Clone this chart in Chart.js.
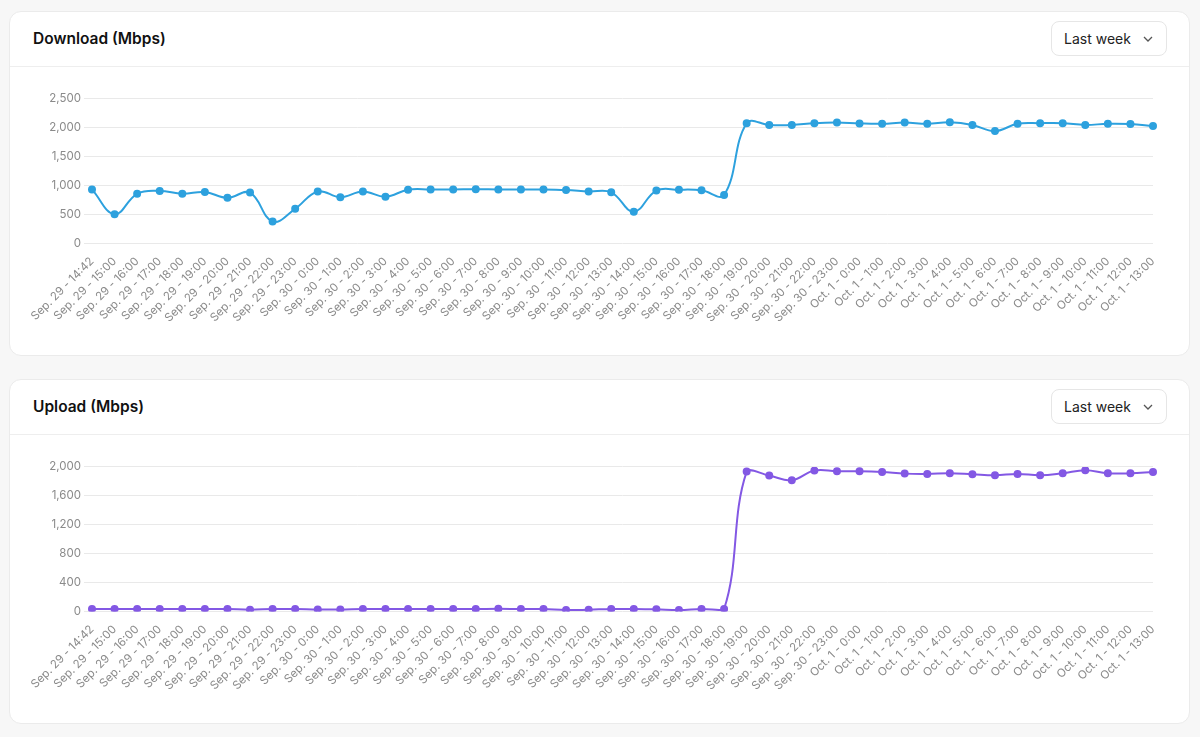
<!DOCTYPE html>
<html>
<head>
<meta charset="utf-8">
<script src="https://cdn.jsdelivr.net/npm/chart.js@4"></script>
<style>
  body { margin: 0; background: #f7f7f7; font-family: Inter, sans-serif; }
  .card { position: absolute; left: 9px; width: 1179px; height: 343px; background: #fff;
          border: 1px solid #ebebeb; border-radius: 12px; }
  .card-header { height: 54px; border-bottom: 1px solid #eeeeee; position: relative; }
  .card-header h2 { margin: 0; position: absolute; left: 23px; top: 17px; font-size: 15.5px;
          font-weight: 600; color: #111; }
  .select { position: absolute; right: 22px; top: 9px; width: 116px; height: 35px;
          border: 1px solid #e6e6e6; border-radius: 8px; font-size: 14px; color: #222;
          line-height: 33px; padding-left: 12px; box-sizing: border-box; }
  .select svg { position: absolute; right: 13px; top: 14px; }
  .chart-wrap { position: absolute; left: 20px; top: 77px; width: 1141px; height: 258px; }
</style>
</head>
<body>
<div class="card" style="top:11px">
  <div class="card-header">
    <h2>Download (Mbps)</h2>
    <div class="select">Last week<svg width="10" height="6" viewBox="0 0 10 6"><path d="M1 1 L5 5 L9 1" fill="none" stroke="#555" stroke-width="1.3"/></svg></div>
  </div>
  <div class="chart-wrap"><canvas id="download-graph"></canvas></div>
</div>
<div class="card" style="top:379px">
  <div class="card-header">
    <h2>Upload (Mbps)</h2>
    <div class="select">Last week<svg width="10" height="6" viewBox="0 0 10 6"><path d="M1 1 L5 5 L9 1" fill="none" stroke="#555" stroke-width="1.3"/></svg></div>
  </div>
  <div class="chart-wrap"><canvas id="upload-graph"></canvas></div>
</div>
<script>
const labels = [
  'Sep. 29 - 14:42', 'Sep. 29 - 15:00', 'Sep. 29 - 16:00', 'Sep. 29 - 17:00', 'Sep. 29 - 18:00',
  'Sep. 29 - 19:00', 'Sep. 29 - 20:00', 'Sep. 29 - 21:00', 'Sep. 29 - 22:00', 'Sep. 29 - 23:00',
  'Sep. 30 - 0:00', 'Sep. 30 - 1:00', 'Sep. 30 - 2:00', 'Sep. 30 - 3:00', 'Sep. 30 - 4:00',
  'Sep. 30 - 5:00', 'Sep. 30 - 6:00', 'Sep. 30 - 7:00', 'Sep. 30 - 8:00', 'Sep. 30 - 9:00',
  'Sep. 30 - 10:00', 'Sep. 30 - 11:00', 'Sep. 30 - 12:00', 'Sep. 30 - 13:00', 'Sep. 30 - 14:00',
  'Sep. 30 - 15:00', 'Sep. 30 - 16:00', 'Sep. 30 - 17:00', 'Sep. 30 - 18:00', 'Sep. 30 - 19:00',
  'Sep. 30 - 20:00', 'Sep. 30 - 21:00', 'Sep. 30 - 22:00', 'Sep. 30 - 23:00',
  'Oct. 1 - 0:00', 'Oct. 1 - 1:00', 'Oct. 1 - 2:00', 'Oct. 1 - 3:00', 'Oct. 1 - 4:00',
  'Oct. 1 - 5:00', 'Oct. 1 - 6:00', 'Oct. 1 - 7:00', 'Oct. 1 - 8:00', 'Oct. 1 - 9:00',
  'Oct. 1 - 10:00', 'Oct. 1 - 11:00', 'Oct. 1 - 12:00', 'Oct. 1 - 13:00'
];

const downloadValues = [
  935, 505, 860, 910, 860, 890, 790, 880, 380, 600,
  900, 800, 900, 810, 930, 935, 935, 940, 935, 935,
  935, 925, 900, 885, 550, 915, 930, 920, 840, 2080,
  2050, 2050, 2080, 2090, 2075, 2070, 2090, 2070, 2095,
  2050, 1944, 2070, 2080, 2080, 2050, 2070, 2065, 2030
];

const uploadValues = [
  35, 35, 35, 35, 35, 35, 35, 25, 35, 35,
  28, 28, 35, 35, 35, 35, 35, 35, 38, 35,
  35, 20, 25, 35, 35, 30, 20, 35, 35, 1935,
  1880, 1815, 1949, 1940, 1940, 1930, 1907, 1903, 1912,
  1898, 1884, 1903, 1884, 1912, 1954, 1912, 1912, 1930
];

createLineChart('download-graph', downloadValues, 'rgb(45,161,222)', 2500, 500);
createLineChart('upload-graph', uploadValues, 'rgb(131,88,228)', 2000, 400);

function createLineChart(id, valores, cor, max, step) {
    const ctx = document.getElementById(id).getContext('2d');
    new Chart(ctx, {
        type: 'line',
        data: {
            labels: labels,
            datasets: [{
                data: valores,
                borderColor: cor,
                backgroundColor: cor,
                pointBackgroundColor: cor,
                borderWidth: 2,
                radius: 3,
                tension: 0.4,
            }]
        },
        options: {
            responsive: true,
            maintainAspectRatio: false,
            animation: false,
            layout: { padding: { right: 18, bottom: 19 } },
            scales: {
                x: {
                    grid: { display: false },
                    border: { display: false },
                    ticks: {
                        autoSkip: false,
                        minRotation: 45,
                        maxRotation: 45,
                        color: '#8a8a8a',
                        font: { family: 'Inter', size: 11.5 }
                    }
                },
                y: {
                    min: 0,
                    max: max,
                    border: { display: false },
                    grid: { color: '#e9e9e9' },
                    ticks: {
                        stepSize: step,
                        color: '#8a8a8a',
                        font: { family: 'Inter', size: 11.5 }
                    }
                }
            },
            plugins: {
                legend: { display: false },
                tooltip: { enabled: false }
            }
        }
    });
}
</script>
</body>
</html>
